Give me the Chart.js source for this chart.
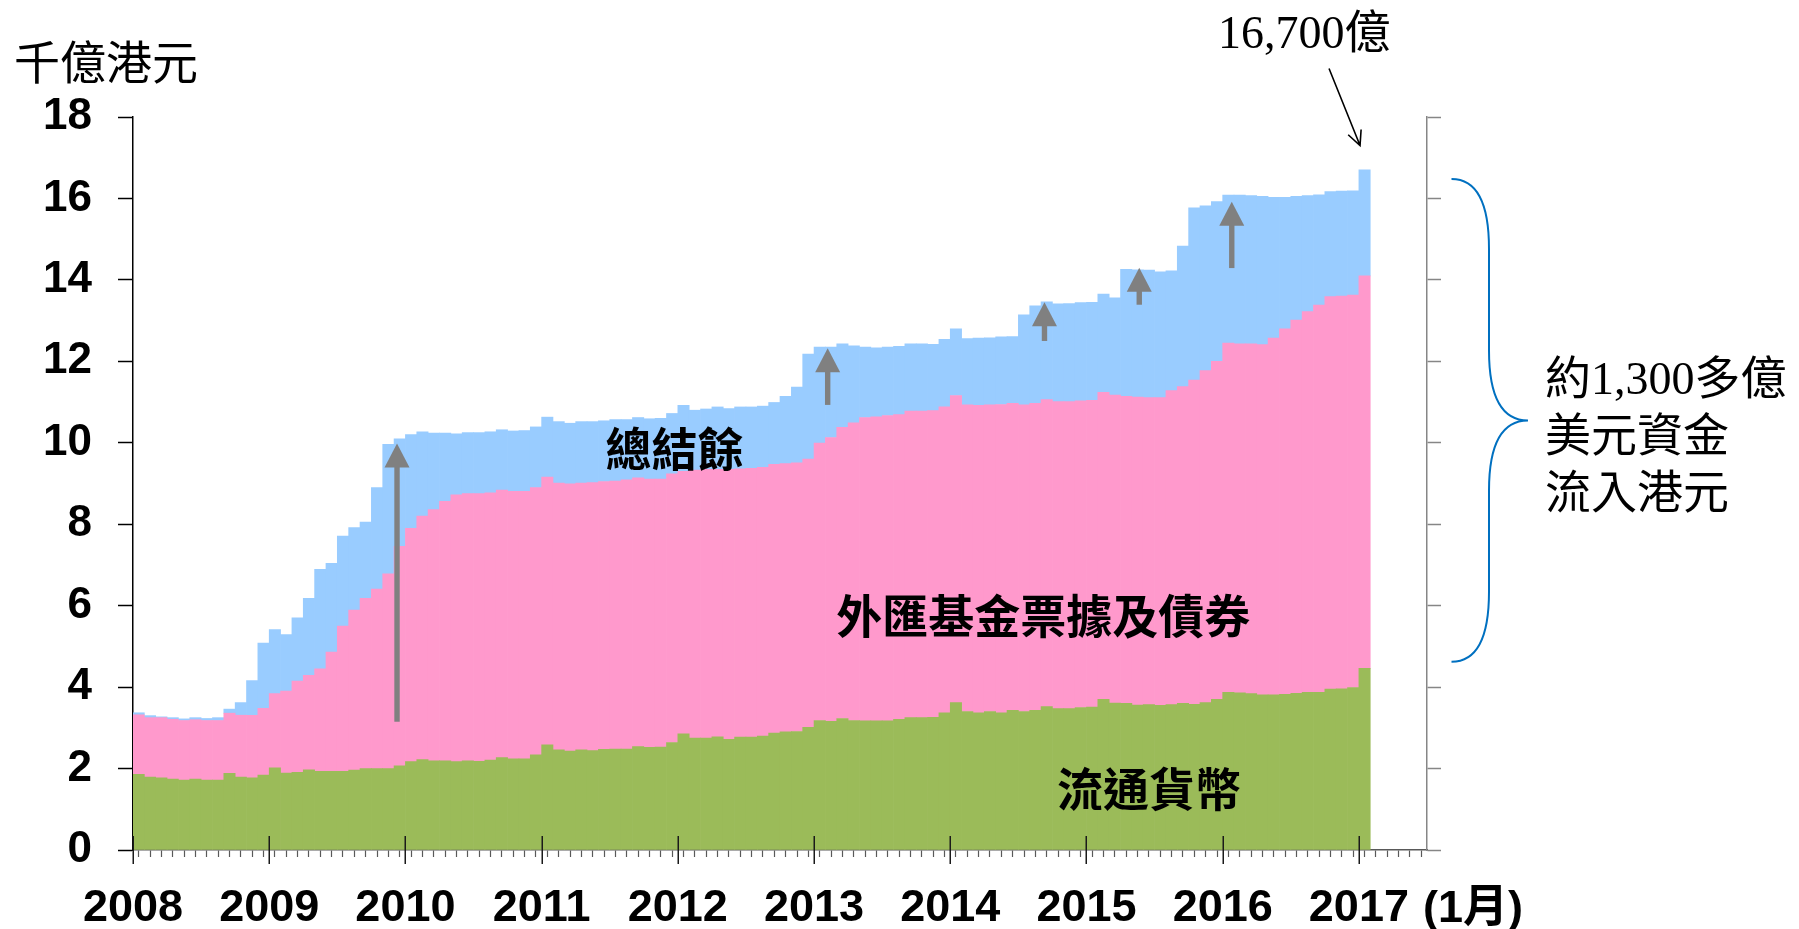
<!DOCTYPE html>
<html>
<head>
<meta charset="utf-8">
<script src="https://cdn.jsdelivr.net/npm/chart.js@4.4.0/dist/chart.umd.min.js"></script>
<style>
  html, body { margin: 0; padding: 0; background: #fff; }
  canvas { display: block; }
</style>
</head>
<body>
<canvas id="chart" width="1799" height="929"></canvas>
<script>
// monthly, Jan 2008 .. Jan 2017 (千億港元)
const firstYear = 2008;
const lastYear = 2017;

const currency = [
  1.86, 1.79, 1.77, 1.74, 1.72, 1.74, 1.72, 1.72, 1.88, 1.79, 1.77, 1.84,
  2.02, 1.89, 1.91, 1.97, 1.93, 1.93, 1.93, 1.96, 2.00, 2.00, 2.00, 2.07,
  2.17, 2.22, 2.19, 2.19, 2.17, 2.19, 2.18, 2.21, 2.27, 2.24, 2.24, 2.34,
  2.58, 2.46, 2.43, 2.46, 2.44, 2.47, 2.48, 2.48, 2.54, 2.52, 2.53, 2.64,
  2.85, 2.75, 2.75, 2.78, 2.72, 2.77, 2.77, 2.80, 2.87, 2.90, 2.91, 3.01,
  3.18, 3.16, 3.23, 3.18, 3.17, 3.17, 3.17, 3.21, 3.25, 3.25, 3.26, 3.37,
  3.62, 3.40, 3.37, 3.40, 3.37, 3.43, 3.40, 3.43, 3.52, 3.47, 3.47, 3.50,
  3.51, 3.70, 3.61, 3.60, 3.56, 3.57, 3.55, 3.57, 3.60, 3.58, 3.62, 3.70,
  3.87, 3.86, 3.84, 3.81, 3.81, 3.82, 3.85, 3.87, 3.87, 3.95, 3.96, 3.99,
  4.46
];

const billsAndNotes = [
  1.46, 1.46, 1.48, 1.47, 1.46, 1.46, 1.46, 1.46, 1.48, 1.52, 1.54, 1.64,
  1.82, 2.01, 2.24, 2.32, 2.52, 2.93, 3.57, 3.93, 4.18, 4.41, 4.78, 5.39,
  5.73, 5.98, 6.17, 6.37, 6.55, 6.56, 6.57, 6.56, 6.57, 6.57, 6.57, 6.56,
  6.58, 6.55, 6.56, 6.55, 6.58, 6.58, 6.58, 6.61, 6.60, 6.59, 6.58, 6.60,
  6.45, 6.58, 6.60, 6.57, 6.63, 6.59, 6.60, 6.60, 6.60, 6.59, 6.60, 6.59,
  6.81, 6.97, 7.15, 7.31, 7.45, 7.47, 7.50, 7.48, 7.53, 7.53, 7.53, 7.51,
  7.54, 7.53, 7.55, 7.53, 7.57, 7.54, 7.53, 7.54, 7.54, 7.54, 7.54, 7.53,
  7.53, 7.54, 7.56, 7.54, 7.56, 7.54, 7.56, 7.71, 7.78, 7.96, 8.15, 8.30,
  8.58, 8.57, 8.59, 8.60, 8.76, 8.98, 9.16, 9.35, 9.51, 9.64, 9.64, 9.64,
  9.64
];

const aggregateBalance = [
  0.05, 0.05, 0.02, 0.04, 0.04, 0.05, 0.05, 0.07, 0.10, 0.31, 0.85, 1.60,
  1.57, 1.39, 1.55, 1.89, 2.44, 2.18, 2.21, 2.03, 1.87, 2.49, 3.18, 2.64,
  2.30, 2.07, 1.88, 1.68, 1.50, 1.50, 1.50, 1.50, 1.48, 1.48, 1.49, 1.49,
  1.47, 1.51, 1.49, 1.51, 1.50, 1.49, 1.51, 1.48, 1.48, 1.48, 1.49, 1.48,
  1.62, 1.47, 1.48, 1.53, 1.49, 1.52, 1.51, 1.50, 1.52, 1.65, 1.86, 2.58,
  2.36, 2.22, 2.05, 1.89, 1.73, 1.69, 1.68, 1.68, 1.65, 1.65, 1.63, 1.66,
  1.64, 1.63, 1.65, 1.65, 1.66, 1.64, 2.21, 2.39, 2.40, 2.40, 2.41, 2.41,
  2.41, 2.41, 2.39, 3.12, 3.13, 3.13, 3.09, 2.94, 3.45, 4.23, 4.05, 3.92,
  3.63, 3.65, 3.64, 3.64, 3.46, 3.23, 3.04, 2.85, 2.71, 2.58, 2.58, 2.56,
  2.60
];

// grey arrows: [month index, from, to]
const arrows = [
  [23.26, 3.15, 9.98],
  [61.2, 10.93, 12.32],
  [80.3, 12.50, 13.45],
  [88.65, 13.39, 14.30],
  [96.8, 14.29, 15.92]
];

// in-chart labels: [text, month index, value]
const seriesNotes = [
  ['總結餘', 47.7, 9.85],
  ['外匯基金票據及債券', 80.2, 5.77],
  ['流通貨幣', 89.5, 1.50]
];

const sideNote = ['約1,300多億', '美元資金', '流入港元'];
const totalNote = '16,700億';
const unitTitle = '千億港元';
const lastMonthNote = '(1月)';

const axisMonths = 114; // Jan 2008 .. Jun 2017
const cjk = '"Noto Sans CJK TC", "Noto Sans CJK SC"';

const toPoints = arr => arr.map((v, i) => ({ x: i + 0.5, y: v }));

const annotate = {
  id: 'annotate',
  afterDatasetsDraw(chart) {
    const { ctx, scales: { x, y } } = chart;
    ctx.save();
    ctx.fillStyle = '#808080';
    arrows.forEach(([m, from, to]) => {
      const px = x.getPixelForValue(m);
      const y0 = y.getPixelForValue(from);
      const y1 = y.getPixelForValue(to);
      const head = 24;
      ctx.fillRect(px - 2.7, y1 + head - 1, 5.4, y0 - y1 - head + 1);
      ctx.beginPath();
      ctx.moveTo(px, y1);
      ctx.lineTo(px + 12.5, y1 + head);
      ctx.lineTo(px - 12.5, y1 + head);
      ctx.closePath();
      ctx.fill();
    });

    ctx.fillStyle = '#000';
    ctx.textAlign = 'center';
    ctx.textBaseline = 'middle';
    ctx.font = 'bold 46px ' + cjk;
    seriesNotes.forEach(([text, m, v]) => {
      ctx.fillText(text, x.getPixelForValue(m), y.getPixelForValue(v));
    });
    ctx.restore();
  },
  afterDraw(chart) {
    const { ctx, chartArea, scales: { x, y } } = chart;
    ctx.save();

    // long year ticks crossing the axis
    ctx.strokeStyle = '#1a1a1a';
    ctx.lineWidth = 1.5;
    for (let m = 0; m <= (lastYear - firstYear) * 12; m += 12) {
      const px = Math.round(x.getPixelForValue(m)) + 0.25;
      ctx.beginPath();
      ctx.moveTo(px, chartArea.bottom - 14);
      ctx.lineTo(px, chartArea.bottom + 14);
      ctx.stroke();
    }

    // unit title
    ctx.fillStyle = '#000';
    ctx.textAlign = 'left';
    ctx.textBaseline = 'middle';
    ctx.font = '46px ' + cjk;
    ctx.fillText(unitTitle, 14, 62);

    // "(1月)" after the last year label
    ctx.font = 'bold 45px "Liberation Sans", ' + cjk;
    const yearW = ctx.measureText(String(lastYear)).width;
    ctx.fillText(lastMonthNote, x.getPixelForValue((lastYear - firstYear) * 12) + yearW / 2 + 14, 910);

    // total label and pointer
    ctx.font = '46px "Liberation Serif", ' + cjk;
    ctx.fillText(totalNote, 1218, 36);
    const tipX = x.getPixelForValue(108.1);
    const tipY = y.getPixelForValue(17.3);
    const tailX = tipX - 31, tailY = tipY - 77;
    const ang = Math.atan2(tipY - tailY, tipX - tailX);
    ctx.strokeStyle = '#000';
    ctx.lineWidth = 1.6;
    ctx.beginPath();
    ctx.moveTo(tailX, tailY);
    ctx.lineTo(tipX, tipY);
    ctx.moveTo(tipX - 16 * Math.cos(ang - 0.45), tipY - 16 * Math.sin(ang - 0.45));
    ctx.lineTo(tipX, tipY);
    ctx.lineTo(tipX - 16 * Math.cos(ang + 0.45), tipY - 16 * Math.sin(ang + 0.45));
    ctx.stroke();

    // brace
    const x0 = chartArea.right + 24.5, x1 = chartArea.right + 62, x2 = chartArea.right + 101;
    const yTop = y.getPixelForValue(16.48), yBot = y.getPixelForValue(4.62);
    const yMid = (yTop + yBot) / 2, r = 70;
    ctx.strokeStyle = '#0070c0';
    ctx.lineWidth = 2;
    ctx.beginPath();
    ctx.moveTo(x0, yTop);
    ctx.quadraticCurveTo(x1, yTop, x1, yTop + r);
    ctx.lineTo(x1, yMid - r);
    ctx.quadraticCurveTo(x1, yMid, x2, yMid);
    ctx.quadraticCurveTo(x1, yMid, x1, yMid + r);
    ctx.lineTo(x1, yBot - r);
    ctx.quadraticCurveTo(x1, yBot, x0, yBot);
    ctx.stroke();

    // side note
    ctx.fillStyle = '#000';
    ctx.font = '46px "Liberation Serif", ' + cjk;
    sideNote.forEach((line, i) => ctx.fillText(line, chartArea.right + 118, 382 + i * 57));

    ctx.restore();
  }
};

new Chart(document.getElementById('chart'), {
  type: 'bar',
  data: {
    datasets: [
      { label: '流通貨幣', data: toPoints(currency), backgroundColor: '#9bbb59' },
      { label: '外匯基金票據及債券', data: toPoints(billsAndNotes), backgroundColor: '#ff99cc' },
      { label: '總結餘', data: toPoints(aggregateBalance), backgroundColor: '#99ccff' }
    ]
  },
  options: {
    responsive: false,
    animation: false,
    devicePixelRatio: 1,
    datasets: { bar: { barPercentage: 1, categoryPercentage: 1, borderWidth: 0 } },
    layout: { padding: { top: 117, left: 0, right: 0, bottom: 0 } },
    plugins: { legend: { display: false }, tooltip: { enabled: false } },
    scales: {
      x: {
        type: 'linear',
        min: 0,
        max: axisMonths,
        offset: false,
        stacked: true,
        border: { color: '#595959', width: 1.5 },
        grid: {
          drawOnChartArea: false,
          tickLength: 7,
          tickColor: '#595959',
          tickWidth: 1.2
        },
        ticks: {
          stepSize: 1,
          autoSkip: false,
          maxRotation: 0,
          padding: 25,
          color: '#000',
          font: { family: '"Liberation Sans", Arial', size: 45, weight: 'bold' },
          callback: v => (v % 12 === 0 && v <= (lastYear - firstYear) * 12) ? String(firstYear + v / 12) : ''
        },
        afterFit: s => { s.height = 79; }
      },
      y: {
        stacked: true,
        min: 0,
        max: 18,
        border: { color: '#000', width: 1.5 },
        grid: { drawOnChartArea: false, tickLength: 15, tickColor: '#000', tickWidth: 1.5 },
        ticks: {
          stepSize: 2,
          padding: 26,
          color: '#000',
          font: { family: '"Liberation Sans", Arial', size: 44, weight: 'bold' }
        },
        afterFit: s => { s.width = 133; }
      },
      y2: {
        type: 'linear',
        position: 'right',
        min: 0,
        max: 18,
        border: { color: '#868686', width: 1.5 },
        grid: { drawOnChartArea: false, tickLength: 14, tickColor: '#868686', tickWidth: 1.5 },
        ticks: { stepSize: 2, display: false },
        afterFit: s => { s.width = 372; }
      }
    }
  },
  plugins: [annotate]
});
</script>
</body>
</html>
